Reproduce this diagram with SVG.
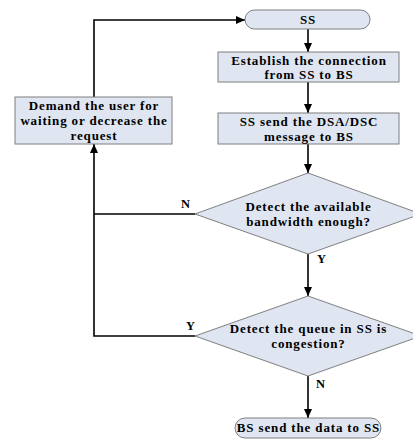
<svg xmlns="http://www.w3.org/2000/svg" width="413" height="439" viewBox="0 0 413 439">
<defs>
<marker id="ah" markerWidth="10" markerHeight="10" refX="9" refY="5" orient="auto" markerUnits="userSpaceOnUse">
<path d="M0,1 L9,5 L0,9 Z" fill="#000"/>
</marker>
<style>
.shape{fill:#dfe6f1;stroke:#7f7f7f;stroke-width:1}
.t{font-family:"Liberation Serif","Times New Roman",serif;font-weight:bold;font-size:13px;letter-spacing:0.85px;fill:#000;text-anchor:middle}
.lbl{font-family:"Liberation Serif","Times New Roman",serif;font-weight:bold;font-size:12.5px;fill:#000}
.c{fill:none;stroke:#000;stroke-width:1.6}
</style>
</defs>
<rect width="413" height="439" fill="#fff"/>
<g id="connectors">
<path class="c" d="M308,29 V52" marker-end="url(#ah)"/>
<path class="c" d="M308,82 V113" marker-end="url(#ah)"/>
<path class="c" d="M308,144 V173" marker-end="url(#ah)"/>
<path class="c" d="M308,254 V296" marker-end="url(#ah)"/>
<path class="c" d="M308,376 V418" marker-end="url(#ah)"/>
<path class="c" d="M195,214 H94"/>
<path class="c" d="M195,336 H94 V144" marker-end="url(#ah)"/>
<path class="c" d="M94,97 V20 H245" marker-end="url(#ah)"/>
<text class="lbl" x="181" y="208">N</text>
<text class="lbl" x="317" y="263">Y</text>
<text class="lbl" x="186" y="330">Y</text>
<text class="lbl" x="316" y="388">N</text>
</g>
<g id="start">
<rect class="shape" x="245" y="10" width="125" height="19" rx="9.5"/>
<text class="t" x="308" y="24">SS</text>
</g>
<g id="establish">
<rect class="shape" x="218" y="52" width="181" height="30"/>
<text class="t" x="309" y="65">Establish the connection</text>
<text class="t" x="309" y="79">from SS to BS</text>
</g>
<g id="send">
<rect class="shape" x="218" y="113" width="181" height="31"/>
<text class="t" x="309" y="126">SS send the DSA/DSC</text>
<text class="t" x="309" y="141">message to BS</text>
</g>
<g id="demand">
<rect class="shape" x="15" y="97" width="157" height="47"/>
<text class="t" x="94" y="110">Demand the user for</text>
<text class="t" x="94" y="125">waiting or decrease the</text>
<text class="t" x="94" y="140">request</text>
</g>
<g id="bandwidth">
<path class="shape" d="M308,173 L421,214 L308,254 L195,214 Z"/>
<text class="t" x="308.5" y="211">Detect the available</text>
<text class="t" x="308.5" y="226">bandwidth enough?</text>
</g>
<g id="queue">
<path class="shape" d="M308,296 L421,336 L308,376 L195,336 Z"/>
<text class="t" x="308.5" y="333">Detect the queue in SS is</text>
<text class="t" x="308.5" y="348">congestion?</text>
</g>
<g id="end">
<rect class="shape" x="235" y="418" width="146" height="20" rx="10"/>
<text class="t" x="308.5" y="432">BS send the data to SS</text>
</g>
</svg>
